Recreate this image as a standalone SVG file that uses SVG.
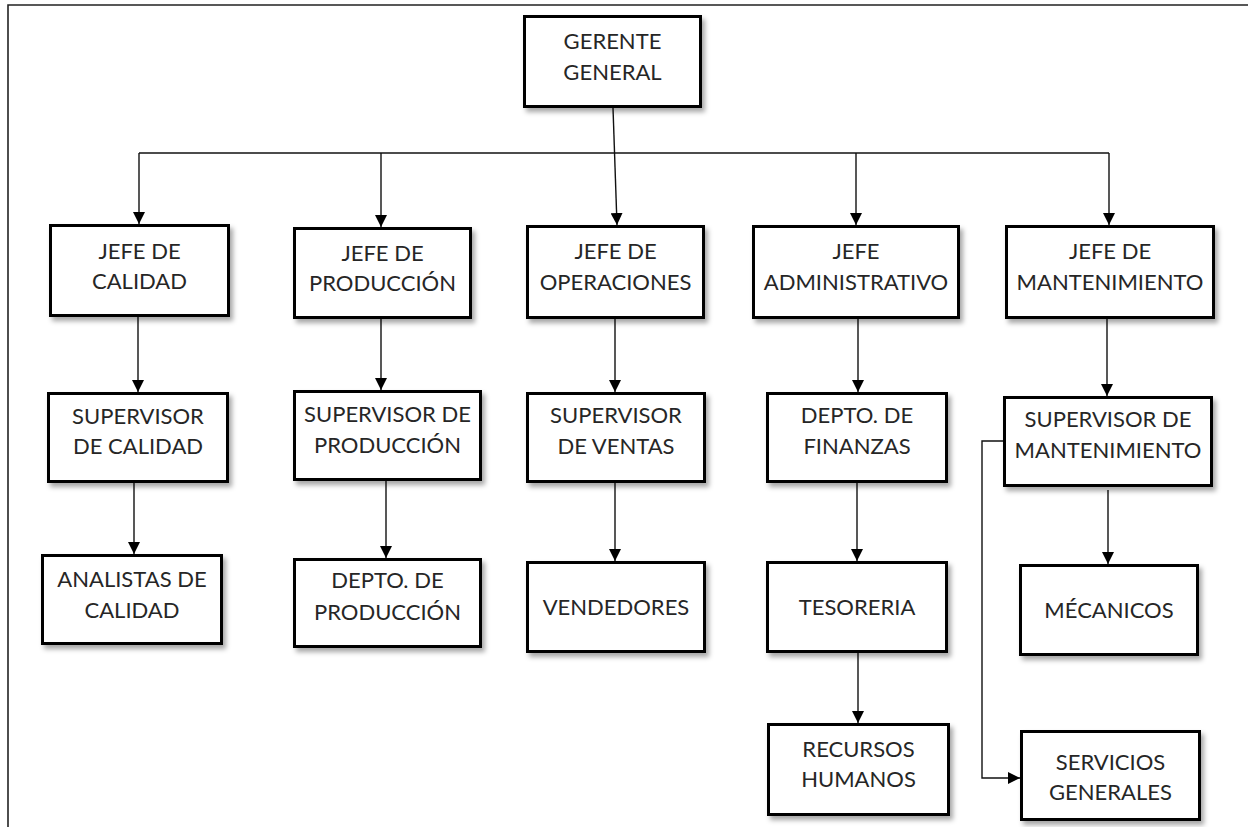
<svg xmlns="http://www.w3.org/2000/svg" width="1248" height="827" viewBox="0 0 1248 827">
<style>
  .box rect { fill: #ffffff; stroke: #000000; stroke-width: 3; filter: url(#shadow); }
  .box text { font-family: Lato, "Liberation Sans", sans-serif; font-size: 22px; fill: #262626; text-anchor: middle; }
  .conn path { fill: none; stroke: #111111; stroke-width: 1.4; }
  .conn .arr { marker-end: url(#arrow); }
  .frame { fill: none; stroke: #222222; stroke-width: 1.6; }
</style>
<defs>
  <filter id="shadow" x="-10%" y="-10%" width="130%" height="140%">
    <feDropShadow dx="3" dy="4" stdDeviation="2.5" flood-color="#000000" flood-opacity="0.35"/>
  </filter>
  <marker id="arrow" markerUnits="userSpaceOnUse" markerWidth="12" markerHeight="12" refX="12" refY="6" orient="auto">
    <path d="M0,0 L12,6 L0,12 z" fill="#000000"/>
  </marker>
</defs>
<rect x="0" y="0" width="1248" height="827" fill="#ffffff"/>
<path class="frame" d="M8,827 V5 H1248"/>

<g id="connectors" class="conn">
  <path class="arr" d="M613,108 L617,225"/>
  <path d="M139,153 H1109"/>
  <path class="arr" d="M139,153 V224"/>
  <path class="arr" d="M381,153 V227"/>
  <path class="arr" d="M856,153 V225"/>
  <path class="arr" d="M1109,153 V225"/>
  <path class="arr" d="M138,317 V392"/>
  <path class="arr" d="M134,483 V554"/>
  <path class="arr" d="M381,319 V390"/>
  <path class="arr" d="M386,481 V558"/>
  <path class="arr" d="M615,319 V392"/>
  <path class="arr" d="M615,483 V561"/>
  <path class="arr" d="M858,319 V392"/>
  <path class="arr" d="M857,483 V561"/>
  <path class="arr" d="M858,653 V723"/>
  <path class="arr" d="M1107,319 V396"/>
  <path class="arr" d="M1108,490 V564"/>
  <path class="arr" d="M1003,441 H982 V778 H1020"/>
</g>

<g id="gerente" class="box"><rect x="524.5" y="16.5" width="176" height="90"/><text x="612.5" y="49">GERENTE</text><text x="612.5" y="80">GENERAL</text></g>

<g id="jefe-calidad" class="box"><rect x="50.5" y="225.5" width="178" height="90"/><text x="139.5" y="259">JEFE DE</text><text x="139.5" y="289">CALIDAD</text></g>
<g id="jefe-produccion" class="box"><rect x="294.5" y="228.5" width="176" height="89"/><text x="382.5" y="261">JEFE DE</text><text x="382.5" y="291">PRODUCCIÓN</text></g>
<g id="jefe-operaciones" class="box"><rect x="527.5" y="226.5" width="176" height="91"/><text x="615.5" y="259">JEFE DE</text><text x="615.5" y="290">OPERACIONES</text></g>
<g id="jefe-administrativo" class="box"><rect x="753.5" y="226.5" width="205" height="91"/><text x="856" y="259">JEFE</text><text x="856" y="290">ADMINISTRATIVO</text></g>
<g id="jefe-mantenimiento" class="box"><rect x="1006.5" y="226.5" width="207" height="91"/><text x="1110" y="259">JEFE DE</text><text x="1110" y="290">MANTENIMIENTO</text></g>

<g id="supervisor-calidad" class="box"><rect x="48.5" y="393.5" width="179" height="88"/><text x="138" y="424">SUPERVISOR</text><text x="138" y="454">DE CALIDAD</text></g>
<g id="supervisor-produccion" class="box"><rect x="294.5" y="391.5" width="186" height="88"/><text x="387.5" y="422">SUPERVISOR DE</text><text x="387.5" y="453">PRODUCCIÓN</text></g>
<g id="supervisor-ventas" class="box"><rect x="527.5" y="393.5" width="177" height="88"/><text x="616" y="423">SUPERVISOR</text><text x="616" y="454">DE VENTAS</text></g>
<g id="depto-finanzas" class="box"><rect x="767.5" y="393.5" width="179" height="88"/><text x="857" y="423">DEPTO. DE</text><text x="857" y="454">FINANZAS</text></g>
<g id="supervisor-mantenimiento" class="box"><rect x="1004.5" y="397.5" width="207" height="88"/><text x="1108" y="427">SUPERVISOR DE</text><text x="1108" y="458">MANTENIMIENTO</text></g>

<g id="analistas-calidad" class="box"><rect x="42.5" y="555.5" width="179" height="88"/><text x="132" y="587">ANALISTAS DE</text><text x="132" y="618">CALIDAD</text></g>
<g id="depto-produccion" class="box"><rect x="294.5" y="559.5" width="186" height="87"/><text x="387.5" y="588">DEPTO. DE</text><text x="387.5" y="620">PRODUCCIÓN</text></g>
<g id="vendedores" class="box"><rect x="527.5" y="562.5" width="177" height="89"/><text x="616" y="615">VENDEDORES</text></g>
<g id="tesoreria" class="box"><rect x="767.5" y="562.5" width="179" height="89"/><text x="857" y="615">TESORERIA</text></g>
<g id="mecanicos" class="box"><rect x="1020.5" y="565.5" width="177" height="89"/><text x="1109" y="618">MÉCANICOS</text></g>

<g id="recursos-humanos" class="box"><rect x="768.5" y="724.5" width="180" height="90"/><text x="858.5" y="757">RECURSOS</text><text x="858.5" y="787">HUMANOS</text></g>
<g id="servicios-generales" class="box"><rect x="1021.5" y="731.5" width="178" height="88"/><text x="1110.5" y="770">SERVICIOS</text><text x="1110.5" y="800">GENERALES</text></g>
</svg>
